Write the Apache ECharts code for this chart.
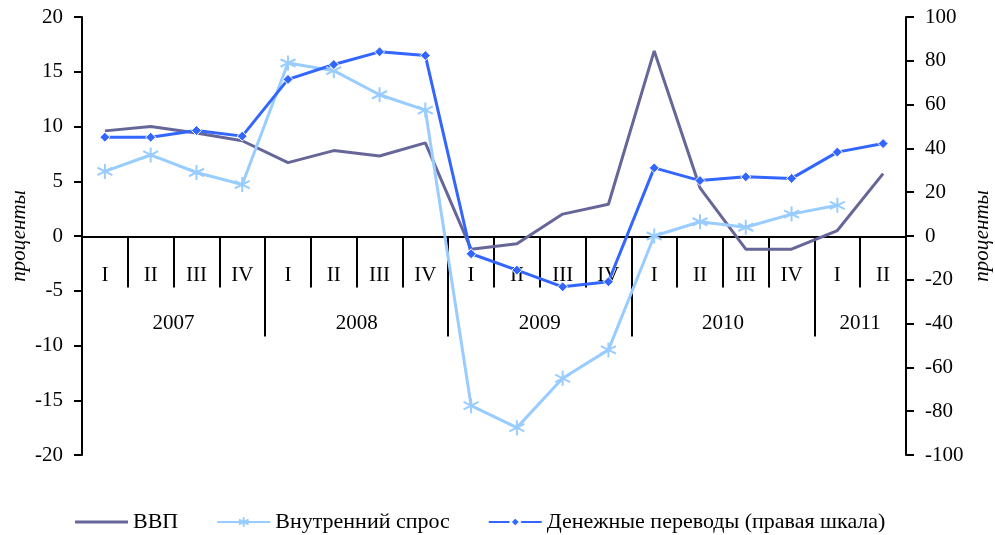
<!DOCTYPE html>
<html>
<head>
<meta charset="utf-8">
<script src="https://cdn.jsdelivr.net/npm/echarts@6/dist/echarts.min.js"></script>
<style>
  html, body { margin: 0; padding: 0; background: #fff; }
  #chart { width: 995px; height: 535px; }
</style>
</head>
<body>
<div id="chart"></div>
<script>
// кварталы и годы
const quarters = ['I', 'II', 'III', 'IV', 'I', 'II', 'III', 'IV', 'I', 'II', 'III', 'IV', 'I', 'II', 'III', 'IV', 'I', 'II'];
const years = ['2007', '2008', '2009', '2010', '2011'];
const yearLabelPos = [2, 6, 10, 14, 17];   // середина каждого года по шкале кварталов
const yearBounds = [4, 8, 12, 16];

// ВВП, %
const gdp = [9.6, 10.0, 9.4, 8.7, 6.7, 7.8, 7.3, 8.5, -1.2, -0.7, 2.0, 2.9, 16.9, 4.4, -1.2, -1.2, 0.5, 5.7];
// Внутренний спрос, %
const demand = [5.9, 7.4, 5.8, 4.7, 15.8, 15.1, 12.9, 11.5, -15.5, -17.5, -13.0, -10.4, 0.0, 1.3, 0.8, 2.0, 2.8, null];
// Денежные переводы, % (правая шкала)
const remittances = [45.1, 45.1, 48.2, 45.6, 71.5, 78.3, 84.1, 82.4, -8.1, -15.6, -23.2, -20.9, 31.1, 25.3, 27.0, 26.3, 38.3, 42.2];

const font = 'Liberation Serif';
const asterisk = 'path://M10,0L10,20M1.3,5L18.7,15M1.3,15L18.7,5';

// ось категорий стоит на нуле левой шкалы: 455 - 236.5
const zeroOffset = -218.5;

const chart = echarts.init(document.getElementById('chart'));

chart.setOption({
  animation: false,
  textStyle: { fontFamily: font, color: '#000' },
  grid: { left: 82, right: 89, top: 17, bottom: 80, outerBoundsMode: 'none', containLabel: false },
  legend: {
    top: 511,
    left: 75,
    padding: 0,
    itemWidth: 53,
    itemHeight: 12,
    itemGap: 38,
    symbolKeepAspect: true,
    textStyle: { fontFamily: font, fontSize: 22, color: '#000' },
    data: [
      // у ВВП нет маркеров — в легенде только линия
      { name: 'ВВП', icon: 'path://M0,0H53V3H0Z' },
      'Внутренний спрос',
      'Денежные переводы (правая шкала)'
    ]
  },
  xAxis: [
    {
      type: 'category',
      position: 'bottom',
      offset: zeroOffset,
      data: quarters,
      boundaryGap: true,
      axisLine: { onZero: false, lineStyle: { color: '#000', width: 2 } },
      axisTick: { show: true, length: 51, interval: 0, lineStyle: { color: '#000', width: 2 } },
      axisLabel: { interval: 0, margin: 28, fontSize: 21, color: '#000', fontFamily: font },
      splitLine: { show: false }
    },
    {
      // годы: длинные разделители и подписи
      type: 'value',
      position: 'bottom',
      offset: zeroOffset,
      min: 0,
      max: 18,
      interval: 1,
      axisLine: { show: false, onZero: false },
      axisTick: { show: true, length: 100, customValues: yearBounds, lineStyle: { color: '#000', width: 2 } },
      axisLabel: {
        margin: 76,
        fontSize: 21,
        color: '#000',
        fontFamily: font,
        customValues: yearLabelPos,
        formatter: function (v) {
          const i = yearLabelPos.indexOf(v);
          return i >= 0 ? years[i] : '';
        }
      },
      splitLine: { show: false }
    }
  ],
  yAxis: [
    {
      type: 'value',
      min: -20,
      max: 20,
      interval: 5,
      position: 'left',
      name: 'проценты',
      nameLocation: 'middle',
      nameGap: 52,
      nameMoveOverlap: false,
      nameTextStyle: { fontFamily: font, fontStyle: 'italic', fontSize: 21, color: '#000' },
      axisLine: { show: true, onZero: false, lineStyle: { color: '#000', width: 2 } },
      axisTick: { show: true, length: 8, lineStyle: { color: '#000', width: 2 } },
      axisLabel: { margin: 19, fontSize: 21, color: '#000', fontFamily: font },
      splitLine: { show: false }
    },
    {
      type: 'value',
      min: -100,
      max: 100,
      interval: 20,
      position: 'right',
      name: 'проценты',
      nameLocation: 'middle',
      nameGap: 66,
      nameMoveOverlap: false,
      nameTextStyle: { fontFamily: font, fontStyle: 'italic', fontSize: 21, color: '#000' },
      axisLine: { show: true, onZero: false, lineStyle: { color: '#000', width: 2 } },
      axisTick: { show: true, length: 8, lineStyle: { color: '#000', width: 2 } },
      axisLabel: { margin: 19, fontSize: 21, color: '#000', fontFamily: font },
      splitLine: { show: false }
    }
  ],
  series: [
    {
      name: 'ВВП',
      type: 'line',
      xAxisIndex: 0,
      yAxisIndex: 0,
      data: gdp,
      symbol: 'none',
      lineStyle: { color: '#666699', width: 3 },
      itemStyle: { color: '#666699' }
    },
    {
      name: 'Внутренний спрос',
      type: 'line',
      xAxisIndex: 0,
      yAxisIndex: 0,
      data: demand,
      symbol: asterisk,
      symbolSize: 15,
      lineStyle: { color: '#99CCFF', width: 3 },
      itemStyle: { color: '#99CCFF', borderColor: '#99CCFF', borderWidth: 2 }
    },
    {
      name: 'Денежные переводы (правая шкала)',
      type: 'line',
      xAxisIndex: 0,
      yAxisIndex: 1,
      data: remittances,
      symbol: 'diamond',
      symbolSize: 10,
      lineStyle: { color: '#3366FF', width: 3 },
      itemStyle: { color: '#3366FF', borderColor: '#fff', borderWidth: 1 }
    }
  ]
});
</script>
</body>
</html>
